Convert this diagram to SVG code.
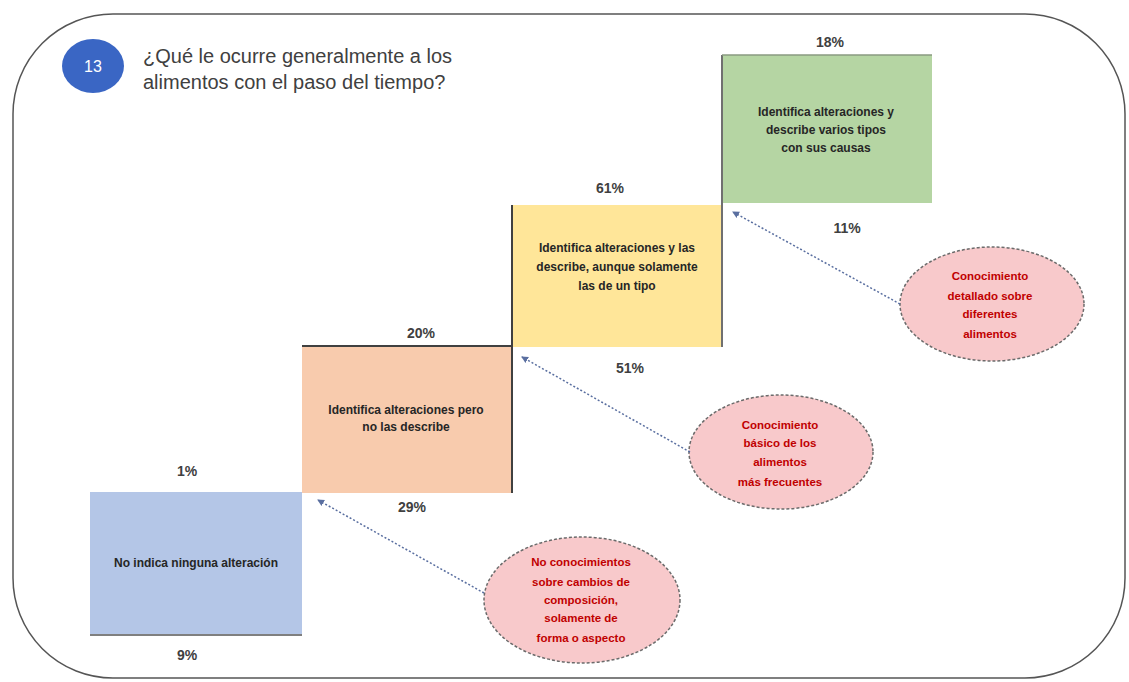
<svg xmlns="http://www.w3.org/2000/svg" width="1129" height="682" viewBox="0 0 1129 682">
<defs>
<style>
.pct{font-family:"Liberation Sans",Arial,sans-serif;font-size:14px;font-weight:bold;fill:#404040;text-anchor:middle}
.bt{font-family:"Liberation Sans",Arial,sans-serif;font-size:12px;font-weight:bold;fill:#262626;text-anchor:middle}
.et{font-family:"Liberation Sans",Arial,sans-serif;font-size:11.5px;font-weight:bold;fill:#c00000;text-anchor:middle}
.ell{fill:#f8c9cb;stroke:#6b6b6b;stroke-width:1.5;stroke-dasharray:3 2}
.step{stroke:#404040;stroke-width:2;fill:none}
.conn{stroke:#5a6fa0;stroke-width:1.5;stroke-dasharray:2 2;fill:none;marker-end:url(#ah)}
</style>
<marker id="ah" markerWidth="8" markerHeight="8" refX="6" refY="4" orient="auto" markerUnits="userSpaceOnUse">
<path d="M0,0.5 L7,4 L0,7.5 z" fill="#5a6fa0"/>
</marker>
</defs>
<rect x="0" y="0" width="1129" height="682" fill="#ffffff"/>
<rect id="frame" x="13" y="14" width="1112" height="664" rx="100" ry="100" fill="#ffffff" stroke="#555555" stroke-width="1.5"/>

<g id="title">
<ellipse cx="93" cy="66" rx="31" ry="27" fill="#3a66c4"/>
<text x="93" y="72" font-family="Liberation Sans,Arial,sans-serif" font-size="16" fill="#ffffff" text-anchor="middle">13</text>
<text x="143" y="63" font-family="Liberation Sans,Arial,sans-serif" font-size="20" fill="#404040">¿Qué le ocurre generalmente a los</text>
<text x="143" y="89" font-family="Liberation Sans,Arial,sans-serif" font-size="20" fill="#404040">alimentos con el paso del tiempo?</text>
</g>

<g id="box1">
<rect x="90" y="492" width="212" height="143" fill="#b4c6e7"/>
<line x1="90" y1="635" x2="302" y2="635" stroke="#7f7f7f" stroke-width="2"/>
<text class="bt" x="196" y="567" fill="#1f2f5a">No indica ninguna alteración</text>
<text class="pct" x="187" y="476">1%</text>
<text class="pct" x="187" y="660">9%</text>
</g>

<g id="box2">
<rect x="302" y="346" width="210" height="147" fill="#f8cbad"/>
<text class="bt" x="406" y="414">Identifica alteraciones pero</text>
<text class="bt" x="406" y="431">no las describe</text>
<text class="pct" x="421" y="338">20%</text>
<text class="pct" x="412" y="512">29%</text>
</g>

<g id="box3">
<rect x="512" y="205" width="210" height="142" fill="#ffe699"/>
<text class="bt" x="617" y="252">Identifica alteraciones y las</text>
<text class="bt" x="617" y="271">describe, aunque solamente</text>
<text class="bt" x="617" y="290">las de un tipo</text>
<text class="pct" x="610" y="193">61%</text>
<text class="pct" x="630" y="373">51%</text>
</g>

<g id="box4">
<rect x="722" y="55" width="210" height="148" fill="#b5d5a3"/>
<text class="bt" x="826" y="116">Identifica alteraciones y</text>
<text class="bt" x="826" y="134">describe varios tipos</text>
<text class="bt" x="826" y="152">con sus causas</text>
<text class="pct" x="830" y="47">18%</text>
<text class="pct" x="847" y="233">11%</text>
</g>

<g id="steps">
<line class="step" x1="302" y1="346" x2="512" y2="346"/>
<line class="step" x1="512" y1="205" x2="512" y2="493"/>
<line x1="722" y1="55" x2="722" y2="347" stroke="#707070" stroke-width="2"/>
<line x1="722" y1="55" x2="932" y2="55" stroke="#8a9a80" stroke-width="1.5"/>
</g>

<g id="note1">
<ellipse class="ell" cx="582" cy="600" rx="98" ry="63"/>
<text class="et" x="581" y="566">No conocimientos</text>
<text class="et" x="581" y="586">sobre cambios de</text>
<text class="et" x="581" y="604">composición,</text>
<text class="et" x="581" y="622">solamente de</text>
<text class="et" x="581" y="642">forma o aspecto</text>
</g>

<g id="note2">
<ellipse class="ell" cx="781" cy="452" rx="92" ry="57"/>
<text class="et" x="780" y="429">Conocimiento</text>
<text class="et" x="780" y="447">básico de los</text>
<text class="et" x="780" y="466">alimentos</text>
<text class="et" x="780" y="486">más frecuentes</text>
</g>

<g id="note3">
<ellipse class="ell" cx="992" cy="304" rx="92" ry="57"/>
<text class="et" x="990" y="280">Conocimiento</text>
<text class="et" x="990" y="300">detallado sobre</text>
<text class="et" x="990" y="318">diferentes</text>
<text class="et" x="990" y="338">alimentos</text>
</g>

<g id="connectors">
<line class="conn" x1="484" y1="593" x2="318" y2="500"/>
<line class="conn" x1="690" y1="452" x2="522" y2="357"/>
<line class="conn" x1="900" y1="304" x2="733" y2="212"/>
</g>
</svg>
